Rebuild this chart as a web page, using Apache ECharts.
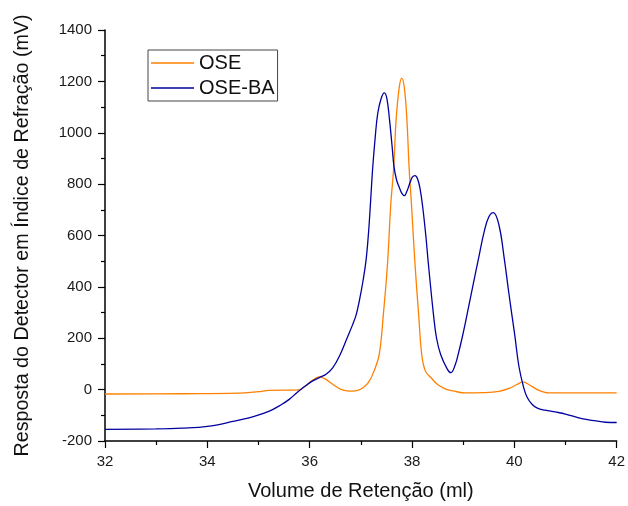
<!DOCTYPE html>
<html>
<head>
<meta charset="utf-8">
<title>OSE vs OSE-BA</title>
<script src="https://cdn.jsdelivr.net/npm/echarts@6/dist/echarts.min.js"></script>
<style>
  html, body { margin: 0; padding: 0; background: #fff; }
  #chart { width: 628px; height: 506px; }
</style>
</head>
<body>
<div id="chart"></div>
<script>
// retention volume (ml) and detector response (mV)
const oseVol = [32.0, 33.5, 34.6, 35.0, 35.2, 35.8, 35.9, 36.0, 36.1, 36.19, 36.3, 36.45, 36.6,
  36.71, 36.83, 36.95, 37.05, 37.15, 37.26, 37.36, 37.44, 37.52, 37.585, 37.64, 37.69, 37.75,
  37.80, 37.85, 37.90, 37.945, 37.99, 38.06, 38.13, 38.19, 38.26, 38.37, 38.5, 38.66, 38.8,
  39.05, 39.4, 39.7, 39.9, 40.05, 40.17, 40.3, 40.45, 40.6, 40.67, 41.0, 42.0];
const oseSignal = [-17, -16, -14, -8, -3, -1, 12, 28, 42, 50, 42, 21, 2,
  -4, -6, -2, 8, 28, 73, 137, 292, 485, 720, 858, 1052, 1176,
  1213, 1176, 1052, 858, 720, 485, 292, 137, 73, 47, 20, 2, -5,
  -13, -12, -7, 5, 20, 30, 18, 0, -11, -13, -13, -13];

const baVol = [32.0, 33.0, 33.5, 34.0, 34.5, 34.9, 35.2, 35.45, 35.6, 35.75, 35.9, 36.05, 36.19,
  36.32, 36.45, 36.58, 36.73, 36.84, 36.91, 36.97, 37.04, 37.10, 37.15, 37.19, 37.23, 37.28,
  37.33, 37.40, 37.46, 37.51, 37.56, 37.61, 37.65, 37.70, 37.75, 37.80, 37.85, 37.90, 37.96,
  38.01, 38.06, 38.11, 38.16, 38.21, 38.27, 38.32, 38.42, 38.48, 38.56, 38.69, 38.76, 38.85,
  38.90, 38.98, 39.05, 39.15, 39.31, 39.41, 39.50, 39.59, 39.70, 39.80, 39.89, 39.96, 40.01,
  40.09, 40.18, 40.25, 40.35, 40.45, 40.6, 40.8, 41.0, 41.32, 41.6, 41.78, 42.0];
const baSignal = [-155, -153, -150, -143, -124, -105, -85, -58, -38, -12, 12, 33, 47,
  60, 85, 130, 200, 253, 292, 345, 420, 500, 610, 730, 858, 980,
  1075, 1135, 1155, 1132, 1052, 950, 865, 815, 788, 765, 755, 772, 805,
  828, 833, 820, 780, 710, 600, 490, 292, 200, 137, 80, 66, 100,
  135, 202, 267, 365, 520, 614, 672, 689, 640, 515, 380, 280, 210,
  90, 10, -30, -58, -72, -80, -87, -95, -113, -122, -127, -128];

const seriesNames = ['OSE', 'OSE-BA'];
const seriesColors = ['#FF8000', '#0000A0'];

const chart = echarts.init(document.getElementById('chart'), null, { renderer: 'canvas' });

const font = "'Liberation Sans', Arial, sans-serif";
const axisCommon = {
  type: 'value',
  nameLocation: 'middle',
  nameTextStyle: { fontFamily: font, fontSize: 20, color: '#111' },
  axisLine: { show: true, onZero: false, lineStyle: { color: '#000', width: 1.5 } },
  axisTick: { show: true, inside: false, length: 7, lineStyle: { color: '#000', width: 1.2 } },
  minorTick: { show: true, splitNumber: 2, length: 4, lineStyle: { color: '#000', width: 1.2 } },
  axisLabel: { fontFamily: font, fontSize: 15, color: '#1a1a1a', margin: 13, formatter: v => String(v) },
  splitLine: { show: false },
  minorSplitLine: { show: false }
};

const lineSeries = (idx, vol, sig) => ({
  name: seriesNames[idx],
  type: 'line',
  data: vol.map((v, i) => [v, sig[i]]),
  showSymbol: false,
  symbol: 'none',
  smooth: 0.4,
  lineStyle: { color: seriesColors[idx], width: 1.3 },
  itemStyle: { color: seriesColors[idx] }
});

const option = {
  animation: false,
  backgroundColor: '#fff',
  grid: { left: 105, right: 10, top: 30, bottom: 62, containLabel: false },
  legend: {
    left: 148,
    top: 50,
    orient: 'vertical',
    padding: [3, 3, 3, 3],
    itemGap: 5,
    itemWidth: 43,
    itemHeight: 14,
    icon: 'path://M0,0H43V1.4H0Z',
    borderColor: '#444',
    borderWidth: 1,
    textStyle: { fontFamily: font, fontSize: 20, lineHeight: 20, color: '#111' },
    data: seriesNames
  },
  xAxis: Object.assign({}, axisCommon, {
    name: 'Volume de Retenção (ml)',
    nameGap: 40,
    min: 32,
    max: 42,
    interval: 2
  }),
  yAxis: Object.assign({}, axisCommon, {
    name: 'Resposta do Detector em Índice de Refração (mV)',
    nameGap: 72,
    nameTextStyle: { fontFamily: font, fontSize: 19.7, color: '#111' },
    min: -200,
    max: 1400,
    interval: 200
  }),
  series: [
    lineSeries(0, oseVol, oseSignal),
    lineSeries(1, baVol, baSignal)
  ]
};

chart.setOption(option);
</script>
</body>
</html>
